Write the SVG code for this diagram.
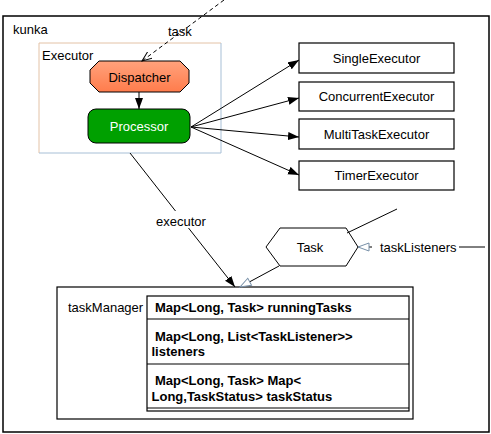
<svg xmlns="http://www.w3.org/2000/svg" width="491" height="434" viewBox="0 0 491 434">
  <style>
    text { font-family: "Liberation Sans", Arial, sans-serif; font-size: 13px; fill: #000; }
    .b { font-weight: bold; }
    .mid { text-anchor: middle; }
    .box { fill: #fff; stroke: #000; stroke-width: 1.2; }
    .conn { stroke: #000; stroke-width: 1; fill: none; }
  </style>
  <defs>
    <linearGradient id="gOrange" x1="0" y1="0" x2="0" y2="1">
      <stop offset="0" stop-color="#ffa27c"/>
      <stop offset="1" stop-color="#ff7c4c"/>
    </linearGradient>
    <marker id="arrow" markerUnits="userSpaceOnUse" markerWidth="12" markerHeight="10" refX="11" refY="4" orient="auto">
      <path d="M0,0 L11,4 L0,8 Z" fill="#000"/>
    </marker>
    <marker id="openV" markerUnits="userSpaceOnUse" markerWidth="12" markerHeight="10" refX="10" refY="4" orient="auto">
      <path d="M0,0 L10,4 L0,8" fill="none" stroke="#000" stroke-width="1"/>
    </marker>
    <marker id="hollow" markerUnits="userSpaceOnUse" markerWidth="14" markerHeight="12" refX="12" refY="5" orient="auto">
      <path d="M1,1 L12,5 L1,9 Z" fill="#fff" stroke="#7890a8" stroke-width="1"/>
    </marker>
  </defs>
  <rect width="491" height="434" fill="#fff"/>

  <g id="kunka">
    <rect x="3" y="16" width="486" height="416" fill="none" stroke="#000" stroke-width="1.5"/>
    <text x="13" y="33.5">kunka</text>
  </g>

  <g id="executor">
    <path d="M39,153 L39,43 L221,43" fill="none" stroke="#e3c2a6" stroke-width="1"/>
    <path d="M221,43 L221,153 L39,153" fill="none" stroke="#a7bfd6" stroke-width="1"/>
    <text x="42" y="59.5">Executor</text>
  </g>

  <g id="dispatcher">
    <polygon points="99,61 180,61 189,70 189,83 180,92 99,92 90,83 90,70" fill="url(#gOrange)" stroke="#000" stroke-width="1"/>
    <text class="mid" x="139.5" y="81.5">Dispatcher</text>
  </g>

  <g id="processor">
    <rect x="88" y="109" width="102" height="34" rx="8" ry="8" fill="#00a000" stroke="#000" stroke-width="1"/>
    <text class="mid" x="139" y="131" style="fill:#fff">Processor</text>
  </g>

  <g id="singleExecutor">
    <rect class="box" x="299" y="43" width="155" height="30"/>
    <text class="mid" x="376.5" y="62.5">SingleExecutor</text>
  </g>
  <g id="concurrentExecutor">
    <rect class="box" x="299" y="82" width="155" height="29"/>
    <text class="mid" x="376.5" y="101">ConcurrentExecutor</text>
  </g>
  <g id="multiTaskExecutor">
    <rect class="box" x="299" y="119" width="155" height="30"/>
    <text class="mid" x="376.5" y="138.5">MultiTaskExecutor</text>
  </g>
  <g id="timerExecutor">
    <rect class="box" x="299" y="161" width="155" height="29"/>
    <text class="mid" x="376.5" y="180">TimerExecutor</text>
  </g>

  <g id="task">
    <polygon points="266,247 280,228 346,228 358,247 346,266 280,266" fill="#fff" stroke="#000" stroke-width="1"/>
    <text class="mid" x="310" y="251.5">Task</text>
  </g>

  <g id="taskManager">
    <rect x="57" y="287" width="356" height="132" fill="#fff" stroke="#000" stroke-width="1.2"/>
    <text x="68" y="311.5">taskManager</text>
    <rect x="147" y="296" width="262" height="115" fill="#fff" stroke="#000" stroke-width="1.2"/>
    <line x1="147" y1="319" x2="409" y2="319" stroke="#000" stroke-width="1.2"/>
    <line x1="147" y1="364" x2="409" y2="364" stroke="#000" stroke-width="1.2"/>
    <line x1="147" y1="408" x2="409" y2="408" stroke="#000" stroke-width="1.2"/>
    <text class="b" x="155" y="312">Map&lt;Long, Task&gt; runningTasks</text>
    <text class="b" x="155" y="341">Map&lt;Long, List&lt;TaskListener&gt;&gt;</text>
    <text class="b" x="151.5" y="356">listeners</text>
    <text class="b" x="155" y="384.5">Map&lt;Long, Task&gt; Map&lt;</text>
    <text class="b" x="151.5" y="400.5">Long,TaskStatus&gt; taskStatus</text>
  </g>

  <g id="connectors">
    <line class="conn" x1="224" y1="0" x2="142" y2="61" stroke-dasharray="4,3" marker-end="url(#openV)"/>
    <text x="168" y="35.5">task</text>
    <line class="conn" x1="139" y1="92" x2="139" y2="109" stroke="#666" marker-end="url(#arrow)"/>
    <line class="conn" x1="191" y1="127" x2="299" y2="60" marker-end="url(#arrow)"/>
    <line class="conn" x1="191" y1="127" x2="299" y2="98" marker-end="url(#arrow)"/>
    <line class="conn" x1="191" y1="127" x2="299" y2="137" marker-end="url(#arrow)"/>
    <line class="conn" x1="191" y1="127" x2="299" y2="175" marker-end="url(#arrow)"/>
    <line class="conn" x1="130" y1="153" x2="175.5" y2="211"/>
    <line class="conn" x1="188.5" y1="228" x2="235" y2="287" marker-end="url(#arrow)"/>
    <text x="156" y="225.5">executor</text>
    <line class="conn" x1="279" y1="266" x2="240" y2="287" marker-end="url(#hollow)"/>
    <line class="conn" x1="347" y1="233" x2="397" y2="209"/>
    <line class="conn" x1="372" y1="247" x2="358" y2="247" marker-end="url(#hollow)"/>
    <text x="380" y="251.5">taskListeners</text>
    <line class="conn" x1="459" y1="247" x2="485" y2="247"/>
  </g>
</svg>
